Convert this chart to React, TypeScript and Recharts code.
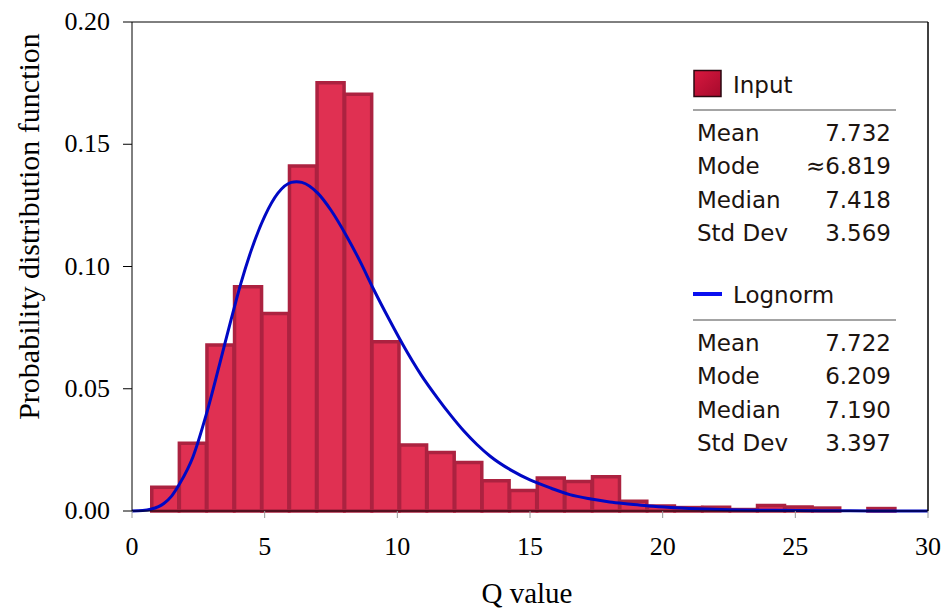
import React from 'react';
import { ComposedChart, Bar, Line, XAxis, YAxis, ReferenceLine } from 'recharts';

// Histogram of Q values: bin centres and their density
const binCenters = [
  1.26, 2.30, 3.34, 4.38, 5.41, 6.45, 7.49, 8.53, 9.56, 10.60,
  11.64, 12.68, 13.71, 14.75, 15.79, 16.83, 17.87, 18.90, 19.94, 20.98,
  22.02, 23.06, 24.09, 25.13, 26.17, 27.21, 28.25, 29.28,
];
const binDensity = [
  0.0097, 0.0277, 0.0679, 0.0917, 0.0808, 0.1411, 0.1752, 0.1705, 0.0692, 0.0270,
  0.0239, 0.0198, 0.0124, 0.0084, 0.0135, 0.0121, 0.0140, 0.0040, 0.0020, 0.0014,
  0.0015, 0.0006, 0.0023, 0.0016, 0.0012, 0, 0.0010, 0,
];

// Fitted lognormal density curve
const curveQ = [
  0, 0.4, 0.7, 1.0, 1.2, 1.5, 1.8, 2.3, 2.8, 3.3, 3.7, 4.1, 4.5, 5.0, 5.5, 6.0, 6.2, 6.4, 7.0,
  7.5, 8.1, 8.6, 9.1, 9.7, 10.2, 10.9, 11.5, 12.0, 12.5, 13.0, 13.5, 14.3, 15.0,
  15.8, 16.5, 17.3, 18.0, 18.8, 19.5, 20.3, 21.3, 22.5, 24.0, 26.0, 28.0, 30.0,
];
const curvePdf = [
  0, 0.0002, 0.0007, 0.0018, 0.0031, 0.0062, 0.0112, 0.0222, 0.0395, 0.0600, 0.0768, 0.0930, 0.1068, 0.1205, 0.1300, 0.1344, 0.1347, 0.1344, 0.1300,
  0.1230, 0.1122, 0.1020, 0.0908, 0.0782, 0.0682, 0.0556, 0.0464, 0.0393, 0.0328, 0.0272, 0.0224, 0.0166, 0.0127,
  0.0093, 0.0067, 0.0049, 0.0037, 0.0028, 0.0020, 0.0014, 0.0009, 0.0005, 0.0003, 0.0001, 0.00005, 0.00002,
];

const xTicks = [0, 5, 10, 15, 20, 25, 30];
const yTicks = [0, 0.05, 0.1, 0.15, 0.2];

const statLabels = ['Mean', 'Mode', 'Median', 'Std Dev'];
const inputStats = ['7.732', '\u22486.819', '7.418', '3.569'];
const lognormStats = ['7.722', '6.209', '7.190', '3.397'];

const histData = binCenters.map((q, i) => ({ q, density: binDensity[i] }));
const curveData = curveQ.map((q, i) => ({ q, pdf: curvePdf[i] }));

const SERIF = '"Liberation Serif", "Times New Roman", serif';
const SANS = '"DejaVu Sans", Verdana, sans-serif';
const BAR_FILL = '#E03052';
const BAR_EDGE = '#AC2240';
const CURVE = '#0008C4';
const TEXT = '#1c1410';

const XTick = (props: any) => {
  const { x, y, payload } = props;
  return (
    <text x={x} y={y} textAnchor="middle" fontFamily={SERIF} fontSize={26} fill="#000">
      {payload.value}
    </text>
  );
};

const YTick = (props: any) => {
  const { x, y, payload } = props;
  return (
    <text x={x} y={y + 8} textAnchor="end" fontFamily={SERIF} fontSize={26} fill="#000">
      {Number(payload.value).toFixed(2)}
    </text>
  );
};

const YTitle = (props: any) => {
  const vb = props.viewBox || { x: 0, y: 22, width: 132, height: 489 };
  const cx = vb.x + 39;
  const cy = vb.y + vb.height / 2 - 40;
  return (
    <text
      x={cx}
      y={cy}
      transform={`rotate(-90, ${cx}, ${cy})`}
      textAnchor="middle"
      fontFamily={SERIF}
      fontSize={30}
      fill="#000"
    >
      Probability distribution function
    </text>
  );
};

const XTitle = (props: any) => {
  const vb = props.viewBox || { x: 132, y: 511, width: 796, height: 99 };
  const cx = vb.x + vb.width / 2 - 3;
  return (
    <text x={cx} y={vb.y + 92} textAnchor="middle" fontFamily={SERIF} fontSize={29} fill="#000">
      Q value
    </text>
  );
};

const StatBlock = ({ top, values }: { top: number; values: string[] }) => (
  <g>
    <line x1={693} x2={896} y1={top} y2={top} stroke="#a4a4a4" strokeWidth={2} />
    {statLabels.map((label, i) => (
      <g key={label}>
        <text x={697} y={top + 31 + i * 33.4} fontFamily={SANS} fontSize={23} fill={TEXT}>
          {label}
        </text>
        <text x={891} y={top + 31 + i * 33.4} textAnchor="end" fontFamily={SANS} fontSize={23} fill={TEXT}>
          {values[i]}
        </text>
      </g>
    ))}
  </g>
);

const StatsLegend = () => (
  <svg
    width={944}
    height={610}
    style={{ position: 'absolute', left: 0, top: 0, pointerEvents: 'none' }}
  >
    <defs>
      <linearGradient id="inputSwatch" x1="0" y1="0" x2="1" y2="1">
        <stop offset="0%" stopColor="#D8183F" />
        <stop offset="100%" stopColor="#A50A2C" />
      </linearGradient>
    </defs>
    <rect x={694} y={70.5} width={27} height={26} fill="url(#inputSwatch)" stroke="#2a0810" strokeWidth={1.5} />
    <text x={733} y={93} fontFamily={SANS} fontSize={23} fill={TEXT}>
      Input
    </text>
    <StatBlock top={110} values={inputStats} />

    <line x1={693} x2={722} y1={294} y2={294} stroke="#0A10F0" strokeWidth={4} />
    <text x={733} y={303} fontFamily={SANS} fontSize={23} fill={TEXT}>
      Lognorm
    </text>
    <StatBlock top={320} values={lognormStats} />
  </svg>
);

export default function App() {
  return (
    <div style={{ position: 'absolute', left: 0, top: 0, width: 944, height: 610, background: '#fff' }}>
      <ComposedChart
        width={944}
        height={610}
        data={histData}
        margin={{ top: 22, right: 16, bottom: 0, left: 0 }}
        barCategoryGap={0}
        barGap={0}
      >
        <XAxis
          xAxisId="q"
          dataKey="q"
          type="number"
          domain={[0, 30]}
          ticks={xTicks}
          height={99}
          axisLine={{ stroke: '#000', strokeWidth: 1 }}
          tickLine={{ stroke: '#9a9a9a', strokeWidth: 1 }}
          tickSize={7}
          tickMargin={37}
          tick={<XTick />}
          label={<XTitle />}
        />
        <XAxis xAxisId="bins" dataKey="q" type="number" domain={[0, 30]} height={0} hide />
        <YAxis
          type="number"
          domain={[0, 0.2]}
          ticks={yTicks}
          width={132}
          axisLine={{ stroke: '#000', strokeWidth: 1 }}
          tickLine={{ stroke: '#000', strokeWidth: 1 }}
          tickSize={9}
          tickMargin={13}
          tick={<YTick />}
          label={<YTitle />}
        />
        <Bar
          xAxisId="bins"
          dataKey="density"
          fill={BAR_FILL}
          stroke={BAR_EDGE}
          strokeWidth={3.5}
          isAnimationActive={false}
        />
        <Line
          xAxisId="q"
          data={curveData}
          dataKey="pdf"
          type="monotone"
          stroke={CURVE}
          strokeWidth={3}
          dot={false}
          isAnimationActive={false}
        />
        <ReferenceLine xAxisId="q" x={30} stroke="#000" strokeWidth={1.5} />
        <ReferenceLine xAxisId="q" y={0.2} stroke="#000" strokeWidth={1} />
      </ComposedChart>
      <StatsLegend />
    </div>
  );
}
